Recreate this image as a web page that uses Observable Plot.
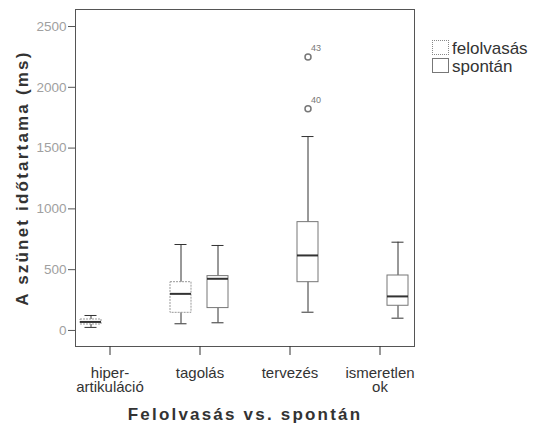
<!DOCTYPE html>
<html><head><meta charset="utf-8">
<script src="https://cdn.jsdelivr.net/npm/d3@7"></script>
<script src="https://cdn.jsdelivr.net/npm/@observablehq/plot@0.6"></script>
<style>
body{margin:0;background:#fff;font-family:"Liberation Sans",Arial,sans-serif;}
#wrap{position:relative;width:533px;height:428px;background:#fff;}
.sw{position:absolute;left:432px;width:15px;height:13px;background:#fff;}
.lt{position:absolute;left:452px;font-size:17px;line-height:17px;color:#333;white-space:nowrap;}
</style></head><body><div id="wrap"></div><script>
// ---- data ----
const categories = ["hiper-\nartikuláció", "tagolás", "tervezés", "ismeretlen\nok"];
const seriesNames = ["felolvasás", "spontán"];
const boxCategory = ["hiper-\nartikuláció", "tagolás", "tagolás", "tervezés", "ismeretlen\nok"];
const boxSeries = ["felolvasás", "felolvasás", "spontán", "spontán", "spontán"];
const whiskerLow = [25, 55, 63, 150, 101];
const q1 = [49, 145, 184, 397, 203];
const median = [70, 301, 425, 617, 280];
const q3 = [90, 397, 447, 891, 452];
const whiskerHigh = [123, 707, 699, 1595, 726];
const outlierCategory = ["tervezés", "tervezés"];
const outlierSeries = ["spontán", "spontán"];
const outlierValues = [2249, 1823];
const outlierLabels = ["43", "40"];
const yTicks = [0, 500, 1000, 1500, 2000, 2500];
const xTitle = "Felolvasás vs. spontán";
const yTitle = "A szünet időtartama (ms)";

const boxes = boxCategory.map((c, i) => ({
  category: c, series: boxSeries[i], low: whiskerLow[i], q1: q1[i],
  median: median[i], q3: q3[i], high: whiskerHigh[i]
}));
const outliers = outlierValues.map((v, i) => ({
  category: outlierCategory[i], series: outlierSeries[i], value: v, label: outlierLabels[i]
}));

const svg = Plot.plot({
  width: 533, height: 428,
  marginLeft: 73, marginRight: 118, marginTop: 9, marginBottom: 82,
  style: {fontFamily: "'Liberation Sans', Arial, sans-serif", background: "white"},
  fx: {domain: categories, padding: 0.238, axis: null, label: null},
  x: {domain: seriesNames, paddingInner: 0.424, paddingOuter: 0.144, axis: null, label: null},
  y: {domain: [-132, 2640], axis: null, label: null},
  marks: [
    Plot.frame({stroke: "#555", facet: "super"}),
    Plot.axisY({ticks: yTicks, tickSize: 7, tickFormat: () => "", color: "#555", label: null}),
    Plot.axisY({ticks: yTicks, tickSize: 0, tickPadding: 9, tickFormat: d => String(d), color: "#a0a0a0", fontSize: 13.5, label: null}),
    Plot.axisFx({anchor: "bottom", tickSize: 9, tickPadding: 12, color: "#333", fontSize: 15, lineHeight: 0.95, label: null}),
    Plot.ruleX(boxes, {fx: "category", x: "series", y1: "low", y2: "high", stroke: "#333"}),
    Plot.tickY(boxes, {fx: "category", x: "series", y: "low", stroke: "#333", inset: 4.5}),
    Plot.tickY(boxes, {fx: "category", x: "series", y: "high", stroke: "#333", inset: 4.5}),
    Plot.barY(boxes, {filter: d => d.series === "felolvasás", fx: "category", x: "series", y1: "q1", y2: "q3", fill: "white", stroke: "#999", strokeDasharray: "2,1"}),
    Plot.barY(boxes, {filter: d => d.series === "spontán", fx: "category", x: "series", y1: "q1", y2: "q3", fill: "white", stroke: "#777"}),
    Plot.tickY(boxes, {fx: "category", x: "series", y: "median", stroke: "#333", strokeWidth: 2}),
    Plot.dot(outliers, {fx: "category", x: "series", y: "value", r: 3, stroke: "#777", fill: "none"}),
    Plot.text(outliers, {fx: "category", x: "series", y: "value", text: "label", dx: 8, dy: -9, fontSize: 9, fill: "#777"}),
    Plot.text([xTitle], {facet: "super", frameAnchor: "bottom", textAnchor: "middle", lineAnchor: "bottom", dy: 73, fontSize: 17, fontWeight: "bold", fill: "#333"}),
    Plot.text([yTitle], {facet: "super", frameAnchor: "left", textAnchor: "middle", lineAnchor: "bottom", rotate: -90, dx: -48, fontSize: 17, fontWeight: "bold", fill: "#333"})
  ]
});
d3.select(svg).selectAll("text")
  .filter(function() { return this.textContent === xTitle || this.textContent === yTitle; })
  .attr("letter-spacing", "2.2px");

const wrap = document.getElementById("wrap");
wrap.appendChild(svg);
svg.style.position = "absolute"; svg.style.left = "0"; svg.style.top = "0";

const legendStyles = [
  {border: "1px dotted #888"},
  {border: "1px solid #777"}
];
seriesNames.forEach((name, i) => {
  const sw = document.createElement("div");
  sw.className = "sw";
  sw.style.top = (40 + i * 18) + "px";
  sw.style.border = legendStyles[i].border;
  wrap.appendChild(sw);
  const t = document.createElement("div");
  t.className = "lt";
  t.style.top = (40 + i * 18) + "px";
  t.textContent = name;
  wrap.appendChild(t);
});
</script></body></html>
